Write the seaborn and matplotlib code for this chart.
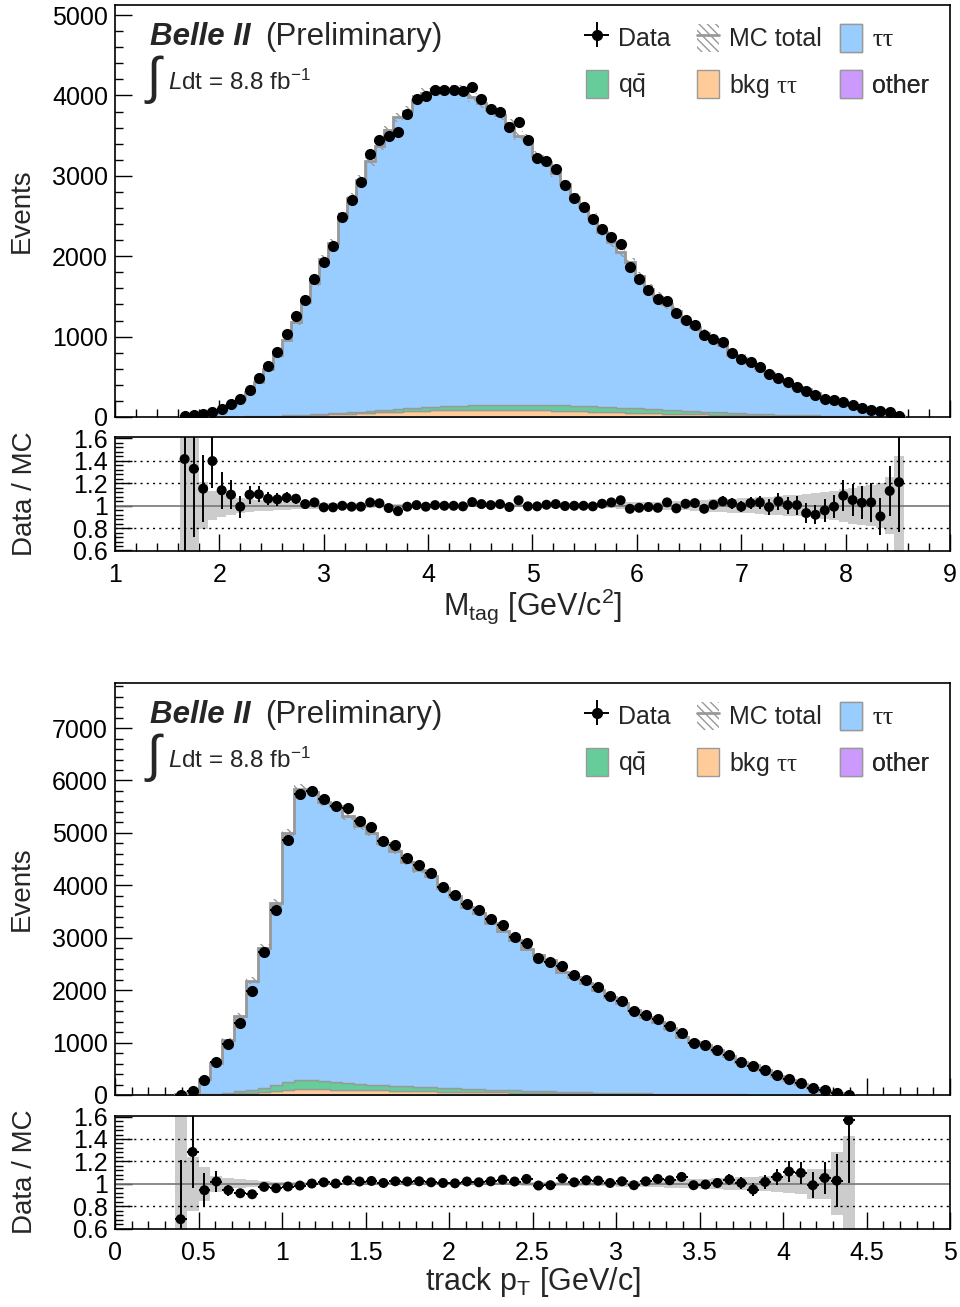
import numpy as np
import pandas as pd
import matplotlib
matplotlib.use("Agg")
import matplotlib.pyplot as plt
import seaborn as sns
from matplotlib.patches import Patch
from matplotlib.lines import Line2D
from matplotlib.ticker import MultipleLocator, FuncFormatter

sns.set_style("ticks")
plt.rcParams["font.family"] = ["Liberation Sans", "DejaVu Sans"]
plt.rcParams["mathtext.fontset"] = "custom"
plt.rcParams["mathtext.rm"] = "Liberation Sans"
plt.rcParams["mathtext.it"] = "Liberation Sans:italic"
plt.rcParams["mathtext.bf"] = "Liberation Sans:bold"
plt.rcParams["mathtext.sf"] = "Liberation Serif"
plt.rcParams["hatch.linewidth"] = 1.0

# ------------------------------------------------------------------ data
# --- top panel: M_tag, 90 bins in [1, 9]; filled bins 7..84
mtag_range = (1.0, 9.0)
mtag_nbins = 90
mtag_first_bin = 7

mtag_data = [10, 20, 35, 65, 100, 160, 225, 335, 480, 635,
             810, 1030, 1260, 1455, 1715, 1930, 2130, 2485, 2700, 2920,
             3270, 3440, 3490, 3540, 3770, 3960, 3990, 4065, 4070, 4065,
             4050, 4100, 3955, 3830, 3800, 3605, 3665, 3440, 3225, 3190,
             3080, 2885, 2730, 2610, 2460, 2340, 2235, 2150, 1870, 1715,
             1575, 1465, 1440, 1290, 1210, 1140, 1015, 975, 935, 790,
             725, 685, 625, 535, 485, 435, 377, 320, 277, 224,
             211, 183, 153, 116, 87, 75, 58, 15]
mtag_ratio = [1.414, 1.327, 1.15, 1.396, 1.136, 1.097, 0.99, 1.097, 1.10, 1.061,
              1.055, 1.07, 1.061, 1.013, 1.028, 0.984, 0.984, 0.998, 0.99, 0.99,
              1.028, 1.02, 0.978, 0.95, 0.99, 1.004, 0.99, 1.004, 0.998, 0.998,
              0.993, 1.031, 1.013, 1.004, 1.013, 0.987, 1.047, 0.993, 0.993, 1.007,
              1.013, 0.996, 0.998, 0.998, 0.993, 1.016, 1.028, 1.047, 0.971, 0.98,
              0.987, 0.98, 1.028, 0.975, 1.016, 1.022, 0.971, 1.007, 1.037, 1.02,
              0.99, 1.022, 1.028, 0.987, 1.037, 1.004, 1.004, 0.933, 0.918, 0.957,
              0.99, 1.088, 1.049, 1.025, 1.028, 0.903, 1.13, 1.208]
mtag_ratio_err = [1.0, 0.61, 0.30, 0.24, 0.165, 0.13, 0.097, 0.08, 0.07, 0.06,
                  0.055, 0.05, 0.045, 0.04, 0.035, 0.03, 0.026, 0.022, 0.02, 0.018,
                  0.016, 0.015, 0.015, 0.014, 0.014, 0.014, 0.014, 0.014, 0.014, 0.014,
                  0.014, 0.014, 0.014, 0.014, 0.014, 0.014, 0.014, 0.015, 0.015, 0.015,
                  0.016, 0.016, 0.017, 0.018, 0.019, 0.02, 0.021, 0.022, 0.024, 0.026,
                  0.028, 0.03, 0.03, 0.032, 0.034, 0.036, 0.04, 0.042, 0.045, 0.05,
                  0.05, 0.055, 0.06, 0.07, 0.075, 0.075, 0.085, 0.09, 0.085, 0.1,
                  0.1, 0.135, 0.14, 0.145, 0.175, 0.165, 0.225, 0.44]
mtag_mc_relerr = [1.0, 0.6, 0.21, 0.13, 0.10, 0.085, 0.07, 0.06, 0.05, 0.045,
                  0.04, 0.036, 0.033, 0.03, 0.028, 0.026, 0.024, 0.022, 0.02, 0.019,
                  0.018, 0.017, 0.016, 0.015, 0.015, 0.014, 0.014, 0.014, 0.014, 0.014,
                  0.014, 0.014, 0.014, 0.015, 0.015, 0.015, 0.016, 0.016, 0.017, 0.017,
                  0.018, 0.019, 0.02, 0.021, 0.022, 0.024, 0.026, 0.028, 0.03, 0.032,
                  0.034, 0.036, 0.038, 0.04, 0.043, 0.046, 0.05, 0.054, 0.058, 0.062,
                  0.066, 0.07, 0.075, 0.08, 0.085, 0.09, 0.095, 0.1, 0.11, 0.12,
                  0.13, 0.15, 0.16, 0.17, 0.18, 0.2, 0.25, 0.44]
mtag_qq = [0, 0, 0, 1, 1, 1, 2, 2, 3, 3,
           4, 5, 6, 7, 9, 11, 13, 15, 17, 20,
           23, 26, 29, 32, 35, 38, 41, 44, 47, 50,
           53, 56, 58, 60, 62, 64, 66, 67, 68, 69,
           69, 69, 68, 67, 66, 64, 62, 60, 58, 55,
           52, 49, 46, 43, 40, 37, 34, 31, 28, 25,
           23, 21, 19, 17, 15, 13, 11, 10, 9, 8,
           7, 6, 5, 4, 3, 3, 2, 2]
mtag_bkgtt = [0, 0, 1, 1, 2, 3, 4, 5, 6, 8,
              10, 13, 16, 19, 23, 27, 31, 36, 41, 46,
              51, 56, 61, 66, 70, 74, 78, 81, 84, 86,
              88, 89, 89, 89, 88, 87, 86, 84, 82, 80,
              77, 74, 71, 68, 65, 62, 59, 56, 53, 50,
              47, 44, 41, 38, 35, 33, 31, 29, 27, 25,
              23, 21, 19, 17, 15, 13, 12, 10, 9, 8,
              7, 6, 5, 4, 3, 3, 2, 2]
mtag_other = [0, 0, 0, 0, 0, 0, 0, 0, 0, 0,
              1, 1, 1, 1, 1, 1, 1, 1, 1, 1,
              1, 1, 1, 1, 1, 1, 1, 1, 1, 1,
              2, 2, 2, 2, 2, 2, 2, 2, 2, 2,
              2, 2, 2, 2, 2, 2, 2, 2, 2, 2,
              1, 1, 1, 1, 1, 1, 1, 1, 1, 1,
              1, 1, 1, 1, 1, 1, 1, 1, 1, 1,
              0, 0, 0, 0, 0, 0, 0, 0]

# --- bottom panel: track pT, 70 bins in [0, 5]; filled bins 5..61
pt_range = (0.0, 5.0)
pt_nbins = 70
pt_first_bin = 5

pt_data = [8, 82, 286, 624, 980, 1375, 1975, 2735, 3520, 4865,
           5745, 5800, 5655, 5520, 5470, 5225, 5120, 4840, 4765, 4525,
           4380, 4230, 3975, 3810, 3650, 3525, 3360, 3245, 3020, 2905,
           2620, 2540, 2470, 2285, 2195, 2065, 1885, 1800, 1605, 1525,
           1450, 1310, 1175, 990, 950, 855, 765, 630, 545, 475,
           390, 310, 235, 135, 90, 45, 6]
pt_ratio = [0.683, 1.284, 0.942, 1.02, 0.942, 0.915, 0.906, 0.972, 0.96, 0.975,
            0.984, 1.002, 1.013, 1.002, 1.029, 1.02, 1.025, 1.007, 1.022, 1.02,
            1.022, 1.013, 1.007, 1.004, 1.02, 1.013, 1.022, 1.037, 1.02, 1.043,
            0.984, 0.987, 1.049, 1.013, 1.031, 1.028, 1.007, 1.022, 0.987, 1.022,
            1.043, 1.031, 1.061, 0.987, 0.993, 1.007, 1.037, 1.007, 0.948, 1.016,
            1.061, 1.109, 1.097, 0.987, 1.052, 1.028, 1.567]
pt_ratio_err = [0.53, 0.32, 0.15, 0.09, 0.05, 0.04, 0.032, 0.027, 0.022, 0.018,
                0.014, 0.014, 0.014, 0.014, 0.014, 0.014, 0.015, 0.015, 0.016, 0.016,
                0.017, 0.017, 0.018, 0.018, 0.019, 0.019, 0.02, 0.02, 0.021, 0.022,
                0.023, 0.024, 0.025, 0.026, 0.027, 0.028, 0.03, 0.031, 0.033, 0.034,
                0.035, 0.037, 0.039, 0.041, 0.043, 0.045, 0.05, 0.05, 0.055, 0.065,
                0.07, 0.09, 0.1, 0.115, 0.14, 0.24, 0.56]
pt_mc_relerr = [1.0, 0.24, 0.15, 0.07, 0.05, 0.04, 0.03, 0.025, 0.02, 0.018,
                0.016, 0.015, 0.014, 0.013, 0.012, 0.012, 0.012, 0.012, 0.012, 0.012,
                0.012, 0.012, 0.013, 0.013, 0.013, 0.014, 0.014, 0.015, 0.015, 0.016,
                0.017, 0.018, 0.019, 0.02, 0.021, 0.022, 0.024, 0.026, 0.028, 0.03,
                0.032, 0.035, 0.038, 0.041, 0.044, 0.048, 0.052, 0.056, 0.06, 0.065,
                0.07, 0.08, 0.09, 0.134, 0.134, 0.28, 0.43]
pt_qq = [0, 3, 8, 15, 25, 40, 60, 85, 115, 150,
         175, 165, 150, 138, 128, 118, 110, 102, 95, 88,
         82, 76, 70, 65, 60, 55, 50, 46, 42, 38,
         35, 32, 29, 26, 23, 20, 18, 16, 14, 12,
         10, 9, 8, 7, 6, 5, 4, 3, 3, 2,
         2, 1, 1, 1, 0, 0, 0]
pt_bkgtt = [0, 2, 5, 10, 18, 28, 40, 55, 70, 90,
            115, 110, 105, 100, 96, 92, 88, 84, 80, 76,
            72, 68, 64, 60, 57, 54, 51, 48, 45, 42,
            39, 36, 33, 30, 28, 26, 24, 22, 20, 18,
            16, 14, 12, 11, 10, 9, 8, 7, 6, 5,
            4, 3, 2, 2, 1, 1, 0]
pt_other = [0, 0, 0, 0, 0, 1, 1, 2, 2, 2,
            3, 3, 3, 3, 3, 3, 2, 2, 2, 2,
            2, 2, 2, 2, 2, 2, 2, 1, 1, 1,
            1, 1, 1, 1, 1, 1, 1, 1, 1, 1,
            1, 1, 1, 0, 0, 0, 0, 0, 0, 0,
            0, 0, 0, 0, 0, 0, 0]

# ------------------------------------------------------------------ style
C_TT = "#99CCFF"
C_QQ = "#66CC99"
C_BKG = "#FFCC99"
C_OTH = "#CC99FF"
C_EDGE = "#999999"
C_BAND = "#CCCCCC"
LBL_TT = r"$\mathsf{\tau\tau}$"
LBL_QQ = r"q$\mathrm{\bar{q}}$"
LBL_BKG = r"bkg $\mathsf{\tau\tau}$"
LBL_OTH = "other"
TICK_FS = 18
TITLE_FS = 20

fig = plt.figure(figsize=(9.6, 13.07), dpi=100)
L, W = 115 / 960, 835 / 960
H = 1307.0
ax_top = fig.add_axes([L, 1 - 417 / H, W, 412 / H])
ax_top_r = fig.add_axes([L, 1 - 550.5 / H, W, 113.5 / H])
ax_bot = fig.add_axes([L, 1 - 1095 / H, W, 412 / H])
ax_bot_r = fig.add_axes([L, 1 - 1228.5 / H, W, 113 / H])

fmt_g = FuncFormatter(lambda v, p: f"{v:g}")


def ext(a):
    a = np.asarray(a, float)
    return np.append(a, a[-1])


def style_axis(ax, xmaj, xmin, ymaj, ymin):
    ax.xaxis.set_major_locator(MultipleLocator(xmaj))
    ax.xaxis.set_minor_locator(MultipleLocator(xmin))
    ax.yaxis.set_major_locator(MultipleLocator(ymaj))
    ax.yaxis.set_minor_locator(MultipleLocator(ymin))
    ax.xaxis.set_major_formatter(fmt_g)
    ax.yaxis.set_major_formatter(fmt_g)
    ax.tick_params(which="both", direction="in", top=False, right=False,
                   width=1.0, colors="black", labelsize=TICK_FS)
    ax.tick_params(which="major", length=12)
    ax.tick_params(which="minor", length=6)
    ax.tick_params(axis="x", pad=9)
    ax.tick_params(axis="y", pad=5)
    for s in ax.spines.values():
        s.set_linewidth(1.2)
        s.set_color("black")
        s.set_visible(True)


def draw(ax, axr, rng, nbins, first, data, ratio, rerr, relerr, qq, bkg, oth,
         xmaj, xmin, ytop, xlabel):
    data = np.asarray(data, float)
    ratio = np.asarray(ratio, float)
    rerr = np.asarray(rerr, float)
    relerr = np.asarray(relerr, float)
    qq = np.asarray(qq, float)
    bkg = np.asarray(bkg, float)
    oth = np.asarray(oth, float)
    n = len(data)
    bw = (rng[1] - rng[0]) / nbins
    edges = rng[0] + bw * np.arange(first, first + n + 1)
    centers = 0.5 * (edges[:-1] + edges[1:])

    mc = data / ratio
    tt = np.clip(mc - qq - bkg - oth, 0, None)
    mc = tt + qq + bkg + oth

    df = pd.DataFrame({
        "x": np.tile(centers, 4),
        "w": np.concatenate([tt, qq, bkg, oth]),
        "comp": np.repeat(["tt", "qq", "bkg", "other"], n),
    })
    sns.histplot(data=df, x="x", weights="w", hue="comp",
                 hue_order=["tt", "qq", "bkg", "other"], bins=edges.tolist(),
                 multiple="stack", element="step", fill=True, alpha=1,
                 palette={"tt": C_TT, "qq": C_QQ, "bkg": C_BKG, "other": C_OTH},
                 edgecolor=C_EDGE, linewidth=1, legend=False, ax=ax)
    # MC stat uncertainty (hatched) and total line
    ax.fill_between(edges, ext(mc * (1 - relerr)), ext(mc * (1 + relerr)),
                    step="post", facecolor="none", edgecolor=C_EDGE,
                    hatch="\\\\\\\\", linewidth=0, zorder=3)
    ax.stairs(mc, edges, color=C_EDGE, linewidth=2, zorder=4)
    # data
    eb = ax.errorbar(centers, data, xerr=bw / 2, yerr=rerr * mc, fmt="o",
                     color="black", ms=7, elinewidth=1.4, capsize=0,
                     zorder=6, label="Data")

    ax.set_xlim(rng[0] if rng[0] > 0 else 0, rng[1])
    ax.set_ylim(0, ytop)
    ax.set_xlabel("")
    ax.set_ylabel("Events", fontsize=TITLE_FS)
    ax.yaxis.set_label_coords(-0.096, 0.5)
    style_axis(ax, xmaj, xmin, 1000, 200)
    ax.tick_params(labelbottom=False)

    # ratio panel
    axr.fill_between(edges, ext(1 - relerr), ext(1 + relerr), step="post",
                     color=C_BAND, linewidth=0, zorder=1)
    axr.axhline(1.0, color="#777777", linewidth=1.2, zorder=2)
    for yy in (0.8, 1.2, 1.4):
        axr.axhline(yy, color="black", linewidth=1.0, linestyle=(0, (1.5, 3)),
                    zorder=2)
    axr.errorbar(centers, ratio, xerr=bw / 2, yerr=rerr, fmt="none",
                 ecolor="black", elinewidth=1.4, capsize=0, zorder=5)
    sns.scatterplot(x=centers, y=ratio, color="black", s=52, edgecolor="none",
                    ax=axr, zorder=6, legend=False)
    axr.set_xlim(ax.get_xlim())
    axr.set_ylim(0.6, 1.61)
    style_axis(axr, xmaj, xmin, 0.2, 0.04)
    axr.set_ylabel("Data / MC", fontsize=TITLE_FS)
    axr.yaxis.set_label_coords(-0.092, 0.5)
    axr.set_xlabel(xlabel, fontsize=22)
    axr.xaxis.set_label_coords(0.5, -0.32)

    # texts
    ax.text(0.042, 0.903, "Belle II", transform=ax.transAxes, fontsize=22.5,
            fontweight="bold", fontstyle="italic", va="baseline")
    ax.text(0.18, 0.903, "(Preliminary)", transform=ax.transAxes, fontsize=22.5,
            va="baseline")
    ax.text(0.038, 0.818, "\u222b", transform=ax.transAxes, fontsize=37,
            va="center", family=["Liberation Sans", "DejaVu Sans"])
    ax.text(0.0635, 0.795, r"$\mathit{L}$dt = 8.8 fb$^{\mathrm{-1}}$",
            transform=ax.transAxes, fontsize=17.5, va="baseline")

    # legend (3 columns x 2 rows)
    mc_h = (Patch(facecolor="white", edgecolor=C_EDGE, hatch="\\\\\\\\", linewidth=0),
            Line2D([0], [0], color=C_EDGE, linewidth=2))
    tt_h = Patch(facecolor=C_TT, edgecolor=C_EDGE, linewidth=1)
    qq_h = Patch(facecolor=C_QQ, edgecolor=C_EDGE, linewidth=1)
    bk_h = Patch(facecolor=C_BKG, edgecolor=C_EDGE, linewidth=1)
    ot_h = Patch(facecolor=C_OTH, edgecolor=C_EDGE, linewidth=1)
    cols = [((eb, qq_h), ("Data", LBL_QQ), 0.564),
            ((mc_h, bk_h), ("MC total", LBL_BKG), 0.697),
            ((tt_h, ot_h), (LBL_TT, LBL_OTH), 0.868)]
    for hs, ls, x0 in cols:
        leg = ax.legend(list(hs), list(ls), loc="upper left",
                        bbox_to_anchor=(x0, 0.955), bbox_transform=ax.transAxes,
                        frameon=False, borderpad=0, borderaxespad=0,
                        handlelength=0.88, handleheight=1.36,
                        handletextpad=0.4, labelspacing=0.74, fontsize=18)
        ax.add_artist(leg)


draw(ax_top, ax_top_r, mtag_range, mtag_nbins, mtag_first_bin,
     mtag_data, mtag_ratio, mtag_ratio_err, mtag_mc_relerr,
     mtag_qq, mtag_bkgtt, mtag_other, 1, 0.2, 5125,
     r"M$_{\mathrm{tag}}$ [GeV/c$^{\mathrm{2}}$]")
draw(ax_bot, ax_bot_r, pt_range, pt_nbins, pt_first_bin,
     pt_data, pt_ratio, pt_ratio_err, pt_mc_relerr,
     pt_qq, pt_bkgtt, pt_other, 0.5, 0.1, 7860,
     r"track p$_{\mathrm{T}}$ [GeV/c]")

fig.savefig("out.png", dpi=100)
